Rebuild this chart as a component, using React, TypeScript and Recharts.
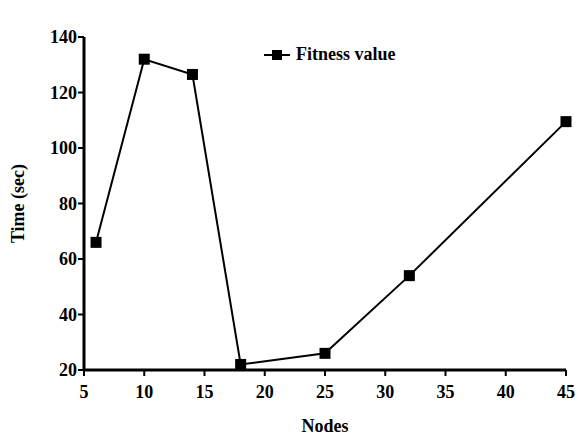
import { LineChart, Line, XAxis, YAxis, Legend } from "recharts";

const nodes = [6, 10, 14, 18, 25, 32, 45];
const fitness = [66, 132, 126.5, 22, 26, 54, 109.5];
const xTicks = [5, 10, 15, 20, 25, 30, 35, 40, 45];
const yTicks = [20, 40, 60, 80, 100, 120, 140];

const data = nodes.map((n, i) => ({ nodes: n, fitness: fitness[i] }));

const FONT = "'Liberation Serif', 'Times New Roman', serif";
const tickStyle = { fontFamily: FONT, fontSize: 18, fontWeight: 700, fill: "#000" };
const labelStyle = { fontFamily: FONT, fontSize: 18, fontWeight: 700, fill: "#000" };

const SquareDot = (props: any) => {
  const { cx, cy, index } = props;
  if (cx == null || cy == null) return null;
  return <rect key={`dot-${index}`} x={cx - 5.5} y={cy - 5.5} width={11} height={11} fill="#000" />;
};

const LegendBox = () => (
  <div style={{ display: "flex", alignItems: "center", fontFamily: FONT, fontSize: 18, fontWeight: 700, color: "#000" }}>
    <svg width={26} height={14} style={{ marginRight: 6 }}>
      <line x1={0} y1={7} x2={26} y2={7} stroke="#000" strokeWidth={2} />
      <rect x={8} y={2} width={10} height={10} fill="#000" />
    </svg>
    <span>Fitness value</span>
  </div>
);

export default function App() {
  return (
    <div style={{ position: "absolute", left: 0, top: 0, width: 580, height: 436, background: "#fff" }}>
      <LineChart width={580} height={436} data={data} margin={{ top: 16, right: 14, bottom: 0, left: 0 }}>
        <XAxis
          dataKey="nodes"
          type="number"
          domain={[5, 45]}
          ticks={xTicks}
          height={66}
          tickSize={6}
          tickMargin={9}
          tick={tickStyle}
          stroke="#000"
          axisLine={{ stroke: "#000", strokeWidth: 3 }}
          tickLine={{ stroke: "#000", strokeWidth: 2 }}
          label={{ value: "Nodes", position: "insideBottom", offset: 4, fill: "#000", style: labelStyle }}
        />
        <YAxis
          type="number"
          domain={[20, 140]}
          ticks={yTicks}
          width={84}
          tickSize={6}
          tickMargin={1}
          tick={tickStyle}
          stroke="#000"
          axisLine={{ stroke: "#000", strokeWidth: 3 }}
          tickLine={{ stroke: "#000", strokeWidth: 2 }}
          label={{
            value: "Time (sec)",
            angle: -90,
            position: "insideLeft",
            offset: 18,
            fill: "#000",
            style: { ...labelStyle, textAnchor: "middle" },
          }}
        />
        <Legend
          verticalAlign="top"
          align="left"
          wrapperStyle={{ top: 44, left: 264, width: "auto" }}
          content={() => <LegendBox />}
        />
        <Line
          dataKey="fitness"
          stroke="#000"
          strokeWidth={2}
          dot={<SquareDot />}
          activeDot={false}
          isAnimationActive={false}
        />
      </LineChart>
    </div>
  );
}
